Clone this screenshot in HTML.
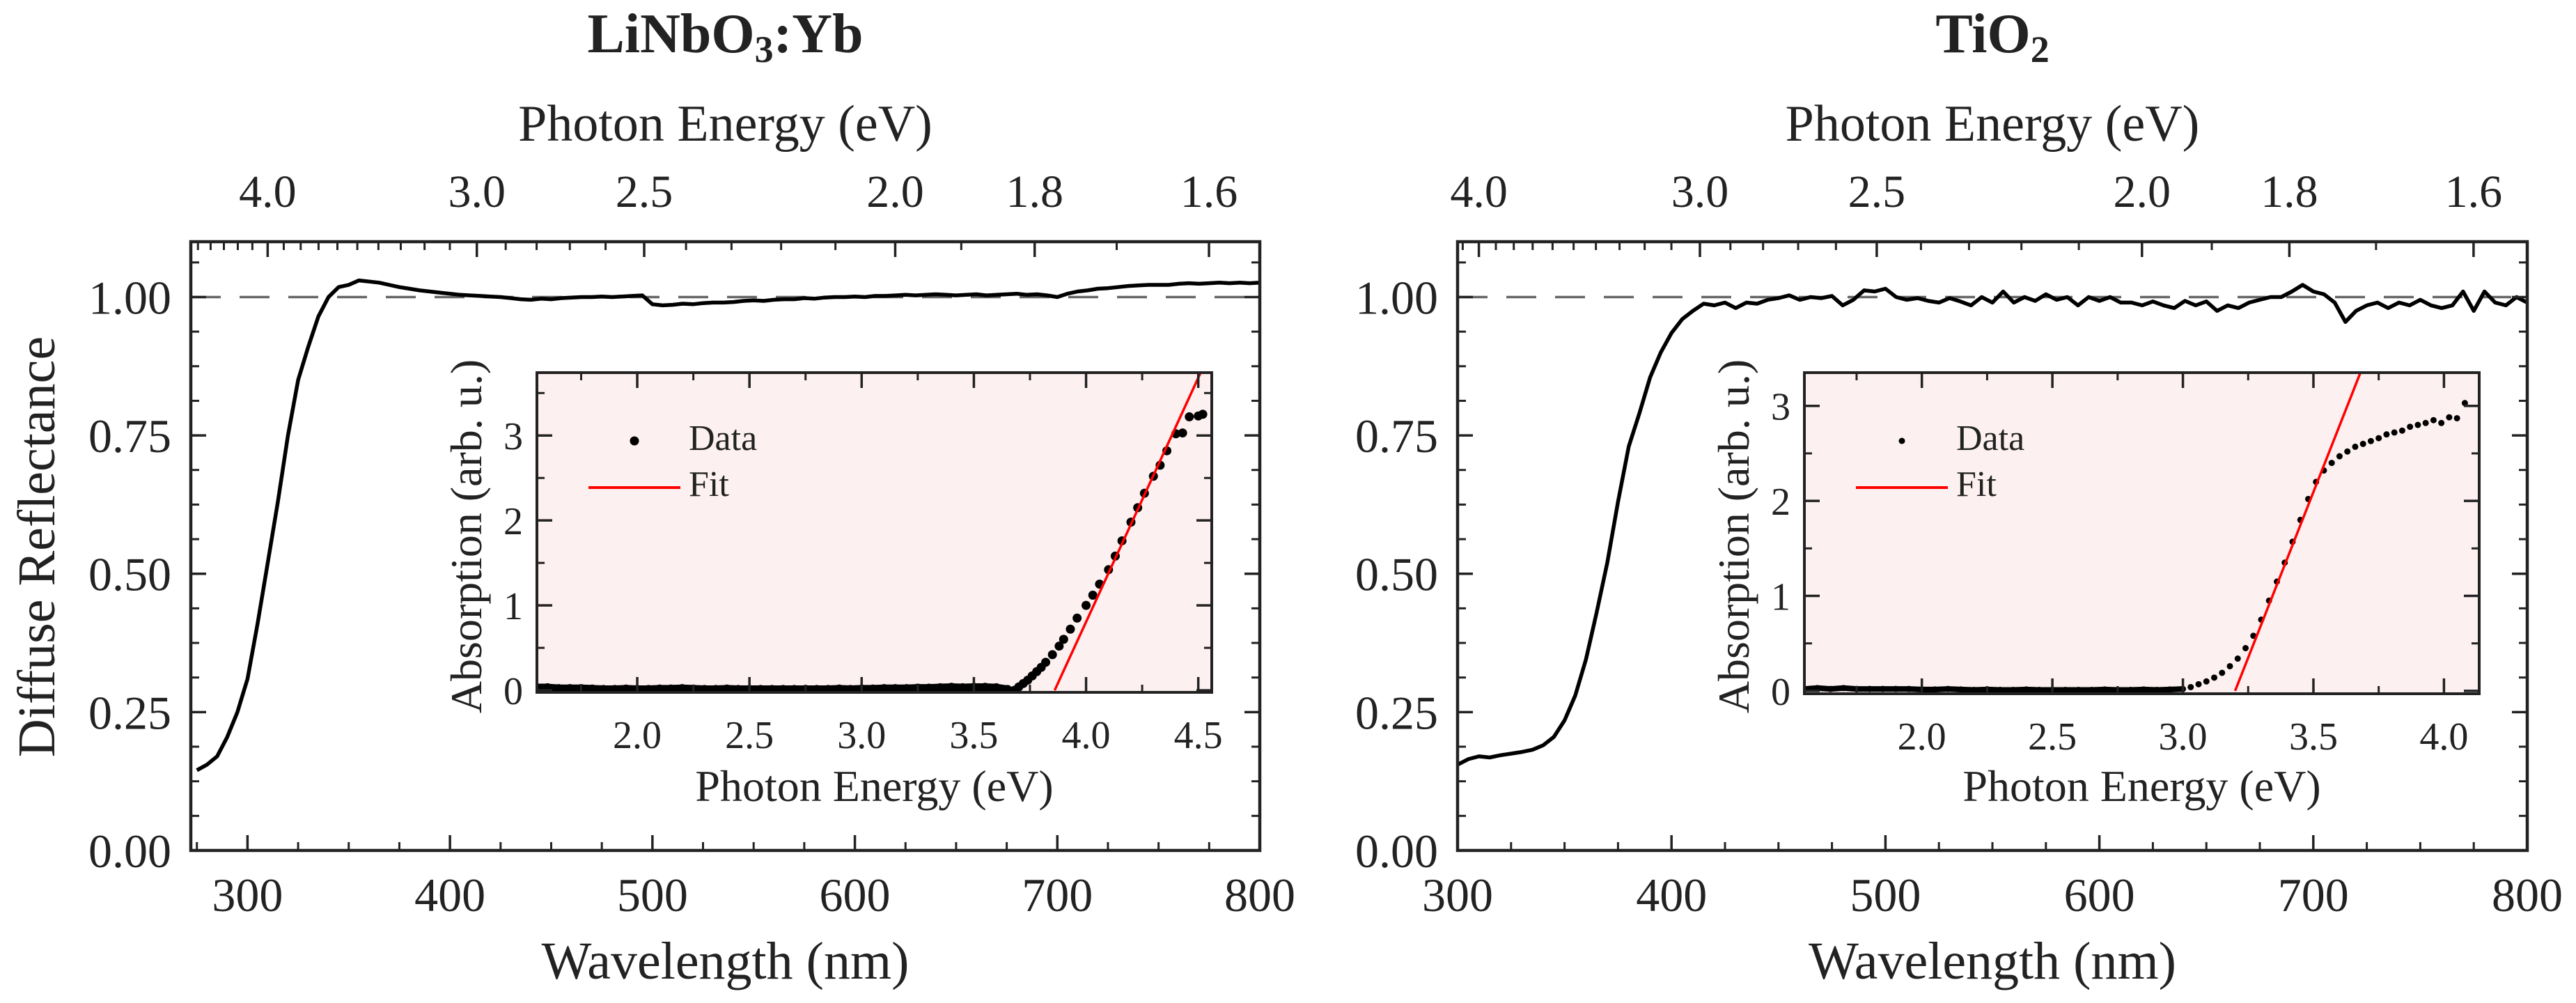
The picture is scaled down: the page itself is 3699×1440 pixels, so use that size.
<!DOCTYPE html>
<html><head><meta charset="utf-8"><title>Diffuse reflectance</title>
<style>html,body{margin:0;padding:0;background:#fff}svg{display:block}text{font-family:"Liberation Serif",serif;fill:#222}</style>
</head><body>
<svg id="fig" xmlns="http://www.w3.org/2000/svg" width="3699" height="1440" viewBox="0 0 3699 1440"></svg>
<script>
// ---- data ----
const wlStartL = 275, wlStepL = 5;
const reflL = [0.145,0.155,0.17,0.205,0.25,0.31,0.41,0.52,0.63,0.75,0.85,0.91,0.965,1.0,1.018,1.022,1.03,1.028,1.026,1.022,1.018,1.015,1.012,1.01,1.008,1.006,1.004,1.003,1.002,1.001,1.0,0.998,0.996,0.995,0.997,0.996,0.998,0.999,1.0,1.0,1.001,1.0,1.001,1.002,1.003,0.987,0.985,0.986,0.988,0.987,0.989,0.99,0.99,0.991,0.993,0.994,0.993,0.995,0.996,0.996,0.998,0.997,0.999,1.0,1.0,1.001,1.0,1.002,1.002,1.003,1.004,1.003,1.004,1.005,1.004,1.003,1.004,1.005,1.003,1.004,1.005,1.006,1.004,1.005,1.003,1.0,1.006,1.01,1.012,1.015,1.016,1.018,1.02,1.021,1.022,1.022,1.022,1.024,1.025,1.024,1.025,1.026,1.025,1.026,1.025,1.026];
const wlStartR = 300, wlStepR = 5;
const reflR = [0.155,0.165,0.17,0.168,0.172,0.175,0.178,0.182,0.19,0.205,0.235,0.28,0.345,0.43,0.52,0.63,0.73,0.79,0.855,0.9,0.935,0.96,0.975,0.988,0.985,0.99,0.98,0.99,0.988,0.995,0.998,1.003,0.995,1.0,0.998,1.002,0.985,0.995,1.012,1.01,1.015,1.0,0.995,0.998,0.993,0.99,0.998,0.992,0.985,1.0,0.99,1.01,0.99,1.0,0.993,1.005,0.995,1.0,0.985,1.0,0.993,1.0,0.99,0.99,0.985,0.992,0.985,0.98,0.993,0.985,0.992,0.975,0.985,0.98,0.99,0.995,1.0,1.0,1.01,1.022,1.01,1.005,0.99,0.955,0.975,0.985,0.99,0.98,0.99,0.985,0.995,0.985,0.98,0.985,1.01,0.975,1.01,0.99,0.985,1.0,0.99];
const insetEL = [1.55,1.6,1.65,1.7,1.75,1.8,1.85,1.9,1.95,2.0,2.05,2.1,2.15,2.2,2.25,2.3,2.35,2.4,2.45,2.5,2.55,2.6,2.65,2.7,2.75,2.8,2.85,2.9,2.95,3.0,3.05,3.1,3.15,3.2,3.25,3.3,3.35,3.4,3.45,3.5,3.55,3.6,3.65,3.68,3.7,3.72,3.74,3.76,3.78,3.8,3.82,3.85,3.88,3.9,3.93,3.96,4.0,4.03,4.06,4.1,4.13,4.16,4.2,4.23,4.26,4.3,4.33,4.36,4.4,4.43,4.46,4.5,4.52];
const insetAL = [0.03,0.03,0.02,0.02,0.02,0.015,0.01,0.01,0.015,0.01,0.01,0.015,0.015,0.02,0.015,0.01,0.01,0.015,0.01,0.01,0.01,0.01,0.01,0.01,0.01,0.01,0.01,0.015,0.01,0.015,0.015,0.02,0.02,0.02,0.025,0.025,0.03,0.035,0.03,0.035,0.035,0.03,0.01,0.0,0.04,0.08,0.12,0.17,0.22,0.27,0.33,0.42,0.52,0.6,0.72,0.85,1.0,1.12,1.25,1.42,1.58,1.76,1.98,2.15,2.32,2.52,2.65,2.82,3.02,3.03,3.22,3.23,3.25];
const insetER = [1.55,1.6,1.65,1.7,1.75,1.8,1.85,1.9,1.95,2.0,2.05,2.1,2.15,2.2,2.25,2.3,2.35,2.4,2.45,2.5,2.55,2.6,2.65,2.7,2.75,2.8,2.85,2.9,2.95,3.0,3.03,3.06,3.09,3.12,3.15,3.18,3.21,3.24,3.27,3.3,3.33,3.36,3.39,3.42,3.45,3.48,3.51,3.54,3.57,3.6,3.63,3.66,3.69,3.72,3.75,3.78,3.81,3.84,3.87,3.9,3.93,3.96,3.99,4.02,4.05,4.08,4.1];
const insetAR = [0.02,0.03,0.02,0.03,0.02,0.02,0.02,0.02,0.02,0.015,0.015,0.02,0.015,0.01,0.015,0.01,0.01,0.015,0.01,0.01,0.01,0.01,0.01,0.015,0.01,0.01,0.015,0.01,0.015,0.02,0.04,0.07,0.1,0.14,0.19,0.26,0.34,0.45,0.58,0.75,0.95,1.15,1.35,1.57,1.8,2.02,2.2,2.32,2.4,2.47,2.52,2.57,2.6,2.63,2.66,2.7,2.72,2.74,2.78,2.8,2.82,2.85,2.82,2.88,2.87,3.03];
const fitL = [3.86, 4.52];   // energy range of fit line
const fitSlopeL = 5.75, fitX0L = 3.86;
const fitR = [3.2, 3.68];
const fitSlopeR = 6.98, fitX0R = 3.2;
const topTickE = [4.0, 3.0, 2.5, 2.0, 1.8, 1.6];
const topTickLabels = ["4.0","3.0","2.5","2.0","1.8","1.6"];
const yTicks = [0, 0.25, 0.5, 0.75, 1.0];
const yTickLabels = ["0.00","0.25","0.50","0.75","1.00"];
const xTicks = [300, 400, 500, 600, 700, 800];

const NS = "http://www.w3.org/2000/svg";
const svg = document.getElementById('fig');
function mk(tag, attrs, parent) {
  const e = document.createElementNS(NS, tag);
  for (const k in attrs) e.setAttribute(k, attrs[k]);
  (parent || svg).appendChild(e);
  return e;
}
function lin(d0, d1, r0, r1) { return v => r0 + (v - d0) * (r1 - r0) / (d1 - d0); }
const INK = "#222";

function frameTicks(g, X, Y, box, xt, xm, yt, ym, maj, mnr, topToo) {
  // x ticks bottom (and top)
  xm.forEach(v => {
    const x = X(v);
    const t = mk('line', {x1:x, x2:x, y1:box.b, y2:box.b - mnr, stroke:INK, 'stroke-width':3}, g);
    
    
    if (topToo) { const t2 = mk('line', {x1:x, x2:x, y1:box.t, y2:box.t + mnr, stroke:INK, 'stroke-width':3}, g);
      
       }
  });
  xt.forEach(v => {
    const x = X(v);
    const t = mk('line', {x1:x, x2:x, y1:box.b, y2:box.b - maj, stroke:INK, 'stroke-width':3.5}, g);
    
    
    if (topToo) { const t2 = mk('line', {x1:x, x2:x, y1:box.t, y2:box.t + maj, stroke:INK, 'stroke-width':3.5}, g);
      
       }
  });
  ym.forEach(v => {
    const y = Y(v);
    [[box.l, mnr], [box.r, -mnr]].forEach(([x0, d]) => {
      const t = mk('line', {x1:x0, x2:x0 + d, y1:y, y2:y, stroke:INK, 'stroke-width':3}, g);
      
      
    });
  });
  yt.forEach(v => {
    const y = Y(v);
    [[box.l, maj], [box.r, -maj]].forEach(([x0, d]) => {
      const t = mk('line', {x1:x0, x2:x0 + d, y1:y, y2:y, stroke:INK, 'stroke-width':3.5}, g);
      
      
    });
  });
}

function panel(o) {
  const g = mk('g', {});
  
  
  const box = o.box;
  const X = lin(o.xd[0], o.xd[1], box.l, box.r);
  const Y = lin(0, 1.1, box.b, box.t);
  // title
  const ti = mk('text', {x:(box.l+box.r)/2, y:75, 'font-size':80, 'font-weight':'bold', 'text-anchor':'middle'}, g);
  
  
  ti.innerHTML = o.title;
  const tl = mk('text', {x:(box.l+box.r)/2, y:202, 'font-size':74, 'text-anchor':'middle'}, g);
  
  
  tl.textContent = 'Photon Energy (eV)';
  // dashed reference
  const dl = mk('line', {x1:box.l, x2:box.r, y1:Y(1), y2:Y(1), stroke:'#666', 'stroke-width':3.5, 'stroke-dasharray':'43 27'}, g);
  
  
  // curve
  let d = '';
  o.refl.forEach((r, i) => { const w = o.ws + i * o.wst; d += (i ? 'L' : 'M') + X(w).toFixed(1) + ',' + Y(r).toFixed(1); });
  const c = mk('path', {d:d, fill:'none', stroke:'#000', 'stroke-width':5.5, 'stroke-linejoin':'round'}, g);
  
  
  // ticks
  const xm = []; for (let w = 275; w <= 800; w += 25) if (w >= o.xd[0] && xTicks.indexOf(w) < 0) xm.push(w);
  const ym = []; for (let k = 0; k <= 17; k++) { const v = k * 0.0625; if (yTicks.indexOf(v) < 0) ym.push(v); }
  frameTicks(g, X, Y, box, xTicks.filter(v => v >= o.xd[0]), xm, yTicks, ym, 22, 12, false);
  // top energy ticks
  for (let k = 15; k <= 46; k++) {
    const E = k / 10; const w = 1239.84 / E;
    if (w < o.xd[0] || w > o.xd[1]) continue;
    const major = topTickE.some(t => Math.abs(t - E) < 1e-6);
    const t = mk('line', {x1:X(w), x2:X(w), y1:box.t, y2:box.t + (major ? 22 : 12), stroke:INK, 'stroke-width':major ? 3.5 : 3}, g);
    
    
  }
  topTickE.forEach((E, i) => {
    const w = 1239.84 / E;
    const t = mk('text', {x:X(w), y:297, 'font-size':66, 'text-anchor':'middle'}, g);
    
    
    t.textContent = topTickLabels[i];
  });
  xTicks.forEach(v => {
    const t = mk('text', {x:X(v), y:1308, 'font-size':68, 'text-anchor':'middle'}, g);
    
    
    t.textContent = v;
  });
  yTicks.forEach((v, i) => {
    const t = mk('text', {x:box.l - 28, y:Y(v) + 24, 'font-size':68, 'text-anchor':'end'}, g);
    
    
    t.textContent = yTickLabels[i];
  });
  const xl = mk('text', {x:(box.l+box.r)/2, y:1405, 'font-size':76, 'text-anchor':'middle'}, g);
  
  
  xl.textContent = 'Wavelength (nm)';
  if (o.ylabel) {
    const yl = mk('text', {x:0, y:0, 'font-size':76, 'text-anchor':'middle', transform:'translate(78,785) rotate(-90)'}, g);
    
    
    yl.textContent = 'Diffuse Reflectance';
  }
  const fr = mk('rect', {x:box.l, y:box.t, width:box.r-box.l, height:box.b-box.t, fill:'none', stroke:INK, 'stroke-width':4.5}, g);
  
  

  // ---- inset ----
  const ib = o.ibox;
  const ig = mk('g', {}, g);
  
  
  const IX = lin(o.ixd[0], o.ixd[1], ib.l, ib.r);
  const IY = lin(o.iyd[0], o.iyd[1], ib.b, ib.t);
  const bg = mk('rect', {x:ib.l, y:ib.t, width:ib.r-ib.l, height:ib.b-ib.t, fill:'#fdf0f0'}, ig);
  
  
  const cp = mk('clipPath', {id:'clip' + o.id}, ig);
  mk('rect', {x:ib.l, y:ib.t, width:ib.r-ib.l, height:ib.b-ib.t}, cp);
  const dg = mk('g', {'clip-path':'url(#clip' + o.id + ')'}, ig);
  
  
  // flat-region connecting band
  let fd = '';
  o.ie.forEach((E, i) => { if (E <= o.flatMax) fd += (fd ? 'L' : 'M') + IX(E).toFixed(1) + ',' + IY(o.ia[i]).toFixed(1); });
  const fp = mk('path', {d:fd, fill:'none', stroke:'#000', 'stroke-width':o.r * 1.8}, dg);
  
  
  o.ie.forEach((E, i) => {
    const p = mk('circle', {cx:IX(E), cy:IY(o.ia[i]), r:o.r, fill:'#000'}, dg);
    
    
  });
  const fx0 = o.fit[0], fx1 = o.fit[1];
  const fl = mk('line', {x1:IX(fx0), y1:IY(o.fs * (fx0 - o.fx0)), x2:IX(fx1), y2:IY(o.fs * (fx1 - o.fx0)), stroke:'#f00', 'stroke-width':3.5}, dg);
  
  
  const ixt = o.ixt, ixm = [];
  for (let k = 6; k <= 18; k++) { const v = k * 0.25; if (v > o.ixd[0] && v < o.ixd[1] && ixt.indexOf(v) < 0) ixm.push(v); }
  const iyt = [0, 1, 2, 3], iym = [0.5, 1.5, 2.5, 3.5].filter(v => v < o.iyd[1]);
  frameTicks(ig, IX, IY, ib, ixt, ixm, iyt, iym, 22, 11, true);
  ixt.forEach(v => {
    const t = mk('text', {x:IX(v), y:ib.b + 80, 'font-size':56, 'text-anchor':'middle'}, ig);
    
    
    t.textContent = v.toFixed(1);
  });
  iyt.forEach(v => {
    const t = mk('text', {x:ib.l - 20, y:IY(v) + 20, 'font-size':56, 'text-anchor':'end'}, ig);
    
    
    t.textContent = v;
  });
  const ixl = mk('text', {x:(ib.l+ib.r)/2, y:1150, 'font-size':64, 'text-anchor':'middle'}, ig);
  
  
  ixl.textContent = 'Photon Energy (eV)';
  const iyl = mk('text', {x:0, y:0, 'font-size':64, 'text-anchor':'middle', transform:'translate(' + (ib.l - 80) + ',770) rotate(-90)'}, ig);
  
  
  iyl.textContent = 'Absorption (arb. u.)';
  const ifr = mk('rect', {x:ib.l, y:ib.t, width:ib.r-ib.l, height:ib.b-ib.t, fill:'none', stroke:INK, 'stroke-width':4}, ig);
  
  
  // legend
  const lg = mk('g', {}, ig);
  
  
  const ld = mk('circle', {cx:ib.l + 140, cy:633, r:o.r, fill:'#000'}, lg);
  
  
  const lt = mk('text', {x:ib.l + 218, y:646, 'font-size':52}, lg);
  
  
  lt.textContent = 'Data';
  const ll = mk('line', {x1:ib.l + 74, x2:ib.l + 206, y1:700, y2:700, stroke:'#f00', 'stroke-width':4}, lg);
  
  
  const lf = mk('text', {x:ib.l + 218, y:712, 'font-size':52}, lg);
  
  
  lf.textContent = 'Fit';
}

panel({name:'linbo3-yb-panel', id:'L', title:'LiNbO<tspan font-size="54" dy="14">3</tspan><tspan dy="-14">:Yb</tspan>',
  box:{l:274, r:1809, t:347, b:1221}, xd:[272, 800], refl:reflL, ws:wlStartL, wst:wlStepL, ylabel:true,
  ibox:{l:771, r:1740, t:535, b:994}, ixd:[1.553, 4.56], iyd:[-0.024, 3.74], ixt:[2.0,2.5,3.0,3.5,4.0,4.5],
  ie:insetEL, ia:insetAL, r:6.5, flatMax:3.66, fit:fitL, fs:fitSlopeL, fx0:fitX0L});
panel({name:'tio2-panel', id:'R', title:'TiO<tspan font-size="54" dy="14">2</tspan>',
  box:{l:2093, r:3629, t:347, b:1221}, xd:[300, 800], refl:reflR, ws:wlStartR, wst:wlStepR, ylabel:false,
  ibox:{l:2591, r:3560, t:535, b:996}, ixd:[1.55, 4.135], iyd:[-0.03, 3.35], ixt:[2.0,2.5,3.0,3.5,4.0],
  ie:insetER, ia:insetAR, r:4.5, flatMax:3.01, fit:fitR, fs:fitSlopeR, fx0:fitX0R});
</script>
</body></html>
